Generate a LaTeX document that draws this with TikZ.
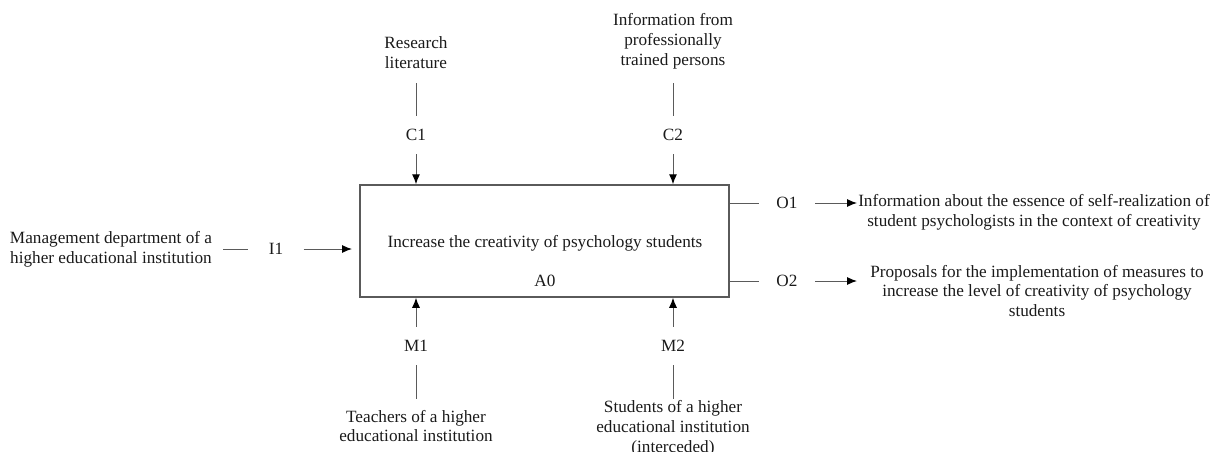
\documentclass[tikz,border=0pt]{standalone}
\usepackage{fontspec}
\setmainfont{Liberation Serif}
\usetikzlibrary{arrows.meta}
\definecolor{ln}{HTML}{5A5A5A}
\definecolor{txt}{HTML}{1A1A1A}
\begin{document}
\begin{tikzpicture}[x=1pt,y=-1pt,
  every node/.style={font=\fontsize{17.2}{19.8}\selectfont, text=txt, inner sep=0pt},
  lbl/.style={align=center},
  vtag/.style={minimum height=38pt, minimum width=20pt},
  htag/.style={minimum width=56pt, minimum height=16pt},
  conn/.style={draw=ln, line width=1pt},
  arr/.style={conn, -{Latex[length=10pt,width=8pt,black]}},
  func/.style={draw=ln, line width=1.5pt, minimum width=369pt, minimum height=112pt}]
\useasboundingbox (0,0) rectangle (1210,452);

% function box
\node[func] (box) at (544.5,241) {};
\node (boxtxt) at (545,243) {Increase the creativity of psychology students};
\node (A0) at (545,281) {A0};

% controls
\node[lbl] (rl) at (416,53) {Research\\literature};
\node[lbl] (ipt) at (673,41.5) {Information from\\professionally\\trained persons};
\node[vtag] (C1) at (416,135) {C1};
\node[vtag] (C2) at (673,135) {C2};
\coordinate (c1top) at (416,83);
\coordinate (c2top) at (673,83);
\draw[conn] (c1top) -- (C1.north);
\draw[conn] (c2top) -- (C2.north);
\draw[arr] (C1.south) -- (C1.south |- box.north);
\draw[arr] (C2.south) -- (C2.south |- box.north);

% mechanisms
\node[vtag] (M1) at (416,346) {M1};
\node[vtag] (M2) at (673,346) {M2};
\node[lbl] (tea) at (416,426) {Teachers of a higher\\educational institution};
\node[lbl] (stu) at (673,428) {Students of a higher\\educational institution\\(interceded)};
\coordinate (m1bot) at (416,399);
\coordinate (m2bot) at (673,399);
\draw[arr] (M1.north) -- (M1.north |- box.south);
\draw[arr] (M2.north) -- (M2.north |- box.south);
\draw[conn] (M1.south) -- (m1bot);
\draw[conn] (M2.south) -- (m2bot);

% input
\node[lbl] (mg) at (111,249.5) {Management department of a\\higher educational institution};
\node[htag, minimum width=55pt] (I1) at (276,249) {I1};
\coordinate (i1start) at (223,249);
\coordinate (i1end) at (352,249);
\draw[conn] (i1start) -- (I1.west);
\draw[arr] (I1.east) -- (i1end);

% outputs
\node[htag] (O1) at (787,203) {O1};
\node[htag] (O2) at (787,281) {O2};
\coordinate (o1end) at (857,203);
\coordinate (o2end) at (857,281);
\draw[conn] (box.east |- O1.west) -- (O1.west);
\draw[conn] (box.east |- O2.west) -- (O2.west);
\draw[arr] (O1.east) -- (o1end);
\draw[arr] (O2.east) -- (o2end);
\node[lbl] (o1t) at (1034,212.5) {Information about the essence of self-realization of\\student psychologists in the context of creativity};
\node[lbl] (o2t) at (1037,291) {Proposals for the implementation of measures to\\increase the level of creativity of psychology\\students};
\end{tikzpicture}
\end{document}
